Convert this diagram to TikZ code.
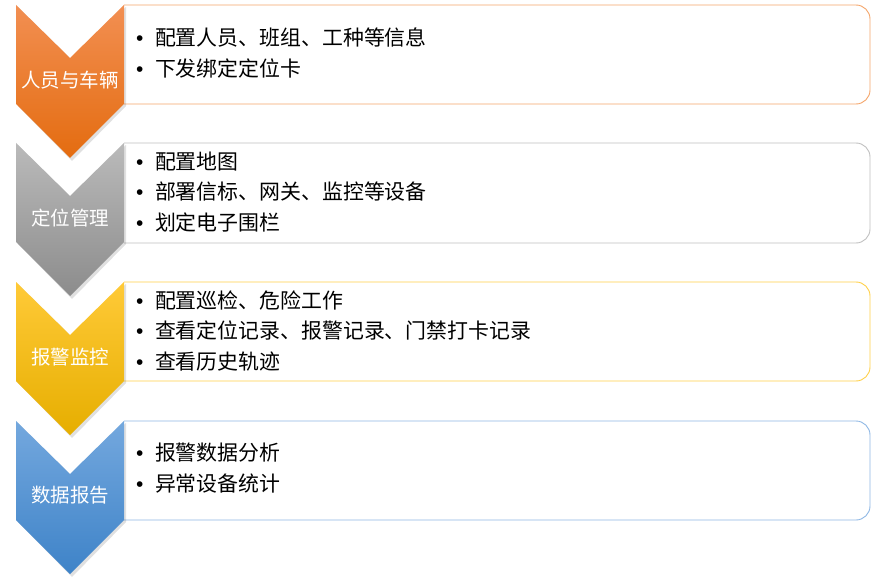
\documentclass[tikz,border=0pt]{standalone}
\usepackage{fontspec}
\setmainfont{Noto Sans CJK SC}
\newfontfamily\bulletfont{Liberation Sans}
\usetikzlibrary{calc}
\definecolor{oTop}{RGB}{242,143,82}
\definecolor{oBot}{RGB}{228,108,16}
\definecolor{oLine}{RGB}{245,165,106}
\definecolor{gTop}{RGB}{186,186,186}
\definecolor{gBot}{RGB}{140,140,140}
\definecolor{gLine}{RGB}{192,192,192}
\definecolor{yTop}{RGB}{255,202,56}
\definecolor{yBot}{RGB}{230,174,0}
\definecolor{yLine}{RGB}{255,208,72}
\definecolor{bTop}{RGB}{116,168,222}
\definecolor{bBot}{RGB}{62,131,200}
\definecolor{bLine}{RGB}{142,184,229}
\newcommand{\bul}{{\bulletfont •}\hspace{11.5pt}}
\tikzset{
  lbl/.style={text=white,font=\fontsize{19.5}{22}\selectfont,inner sep=0pt},
  itemtxt/.style={anchor=west,text=black,font=\fontsize{20.9}{30.5}\selectfont,inner sep=0pt,align=left},
  boxline/.style={line width=0.9pt,rounded corners=14pt},
}
\newcommand{\chev}[3]{%
  \fill[black,opacity=0.12] (18,#1+2) -- (72,#1+55) -- (126,#1+2) -- (126,#1+101) -- (72,#1+156) -- (18,#1+101) -- cycle;
  \shade[top color=#2,bottom color=#3] (16,#1) -- (70,#1+53) -- (124,#1) -- (124,#1+99) -- (70,#1+153) -- (16,#1+99) -- cycle;
}
\begin{document}
\begin{tikzpicture}[x=1pt,y=-1pt]
\useasboundingbox (0,0) rectangle (871,583);
\fill[white] (0,0) rectangle (871,583);
% boxes
\draw[boxline,oLine] (124,5) -- (870,5) -- (870,104) -- (124,104);
\draw[boxline,gLine] (124,143) -- (870,143) -- (870,243) -- (124,243);
\draw[boxline,yLine] (124,282) -- (870,282) -- (870,381) -- (124,381);
\draw[boxline,bLine] (124,421) -- (870,421) -- (870,520) -- (124,520);
% chevrons
\chev{5}{oTop}{oBot}
\chev{143}{gTop}{gBot}
\chev{282}{yTop}{yBot}
\chev{421}{bTop}{bBot}
% labels
\node[lbl] (l1) at (70,80) {人员与车辆};
\node[lbl] (l2) at (70,218) {定位管理};
\node[lbl] (l3) at (70,357) {报警监控};
\node[lbl] (l4) at (70,495) {数据报告};
% items
\node[itemtxt] (t1) at (136,53) {\bul 配置人员、班组、工种等信息\\\bul 下发绑定定位卡};
\node[itemtxt] (t2) at (136,192) {\bul 配置地图\\\bul 部署信标、网关、监控等设备\\\bul 划定电子围栏};
\node[itemtxt] (t3) at (136,331) {\bul 配置巡检、危险工作\\\bul 查看定位记录、报警记录、门禁打卡记录\\\bul 查看历史轨迹};
\node[itemtxt] (t4) at (136,468) {\bul 报警数据分析\\\bul 异常设备统计};
\end{tikzpicture}
\end{document}
